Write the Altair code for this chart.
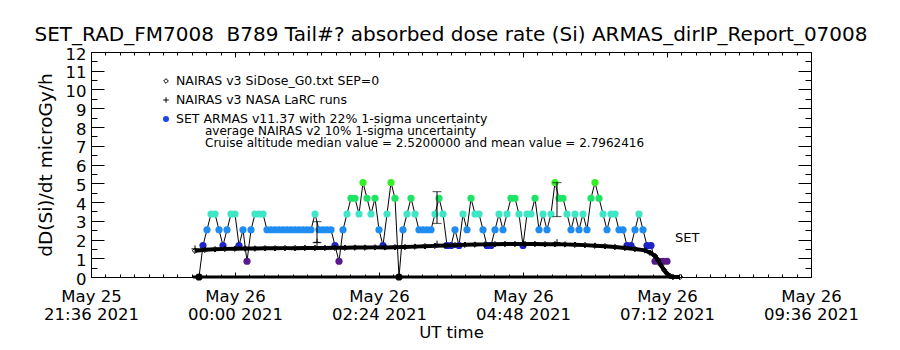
import altair as alt
import pandas as pd

# ---------------- data ----------------
title_text = "SET_RAD_FM7008\u00a0 B789 Tail#? absorbed dose rate (Si) ARMAS_dirIP_Report_07008"
y_title = "dD(Si)/dt microGy/h"
x_title = "UT time"

x_tick_labels_times = ["21:36", "00:00", "02:24", "04:48", "07:12", "09:36"]
y_tick_values = [0, 1, 2, 3, 4, 5, 6, 7, 8, 9, 10, 11, 12]

# SET ARMAS dose rate, one sample every 4 minutes from 23:24 UT
armas_start = "23:24"
armas_step_min = 4
armas_values = [
    0, 1.68, 2.52, 3.36, 3.36, 2.52, 1.68, 2.52, 3.36, 3.36,
    1.68, 2.52, 0.84, 2.52, 3.36, 3.36, 3.36, 2.52, 2.52, 2.52,
    2.52, 2.52, 2.52, 2.52, 2.52, 2.52, 2.52, 2.52, 2.52, 3.36,
    2.52, 2.52, 2.52, 2.52, 1.68, 0.84, 2.52, 3.36, 4.2, 4.2,
    3.36, 5.04, 4.2, 3.36, 4.2, 2.52, 1.68, 3.36, 5.04, 4.2,
    0, 2.52, 3.36, 4.2, 3.36, 2.52, 2.52, 2.52, 2.52, 3.36,
    4.2, 3.36, 1.68, 1.68, 2.52, 1.68, 3.36, 2.52, 4.2, 3.36,
    3.36, 2.52, 1.68, 1.68, 2.52, 3.36, 2.52, 3.36, 4.2, 4.2,
    3.36, 1.68, 3.36, 3.36, 4.2, 2.52, 3.36, 2.52, 3.36, 5.04,
    4.2, 4.2, 3.36, 2.52, 3.36, 2.52, 3.36, 2.52, 4.2, 5.04,
    4.2, 3.36, 2.52, 3.36, 3.36, 2.52, 2.52, 1.68, 1.68, 2.52,
    3.36, 2.52, 1.68, 1.68, 0.84, 0.84, 0.84, 0.84,
]

# NAIRAS v3 SiDose_G0 model curve
g0_times = ["23:20", "23:30", "23:40", "23:50", "00:00", "00:10", "00:20", "00:30",
            "00:40", "00:50", "01:00", "01:10", "01:20", "01:30", "01:40", "01:50",
            "02:00", "02:10", "02:20", "02:30", "02:40", "02:50", "03:00", "03:10",
            "03:20", "03:30", "03:40", "03:50", "04:00", "04:10", "04:20", "04:30",
            "04:40", "04:50", "05:00", "05:10", "05:20", "05:30", "05:40", "05:50",
            "06:00", "06:10", "06:20", "06:30", "06:40", "06:50", "06:55", "07:00",
            "07:03", "07:06", "07:09", "07:12", "07:15", "07:18", "07:25"]
g0_values = [1.40, 1.45, 1.48, 1.50, 1.51, 1.52, 1.52, 1.53,
             1.53, 1.54, 1.54, 1.55, 1.55, 1.55, 1.56, 1.56,
             1.57, 1.57, 1.58, 1.58, 1.59, 1.60, 1.62, 1.64,
             1.66, 1.68, 1.70, 1.72, 1.73, 1.74, 1.75, 1.76,
             1.76, 1.76, 1.76, 1.75, 1.75, 1.74, 1.72, 1.70,
             1.67, 1.64, 1.60, 1.55, 1.49, 1.42, 1.30, 1.12,
             0.90, 0.62, 0.38, 0.18, 0.05, 0.0, 0.0]

# NAIRAS v3 NASA LaRC runs
larc_times = ["23:20", "01:22", "03:22", "05:22"]
larc_values = [1.50, 1.85, 1.75, 1.83]
larc_zero_times = ["23:18", "07:25"]
larc_zero_values = [0.0, 0.0]

# ARMAS 22% 1-sigma uncertainty bars
err_times = ["01:22", "03:22", "05:22"]
err_low = [1.83, 2.86, 3.22]
err_high = [2.95, 4.55, 5.03]

levels = [0, 0.84, 1.68, 2.52, 3.36, 4.2, 5.04]
level_colors = ["#000000", "#561a8a", "#1c24c6", "#1e8cf0", "#3ee6c6", "#1ee466", "#34f024"]

legend_labels = ["NAIRAS v3 SiDose_G0.txt SEP=0",
                 "NAIRAS v3 NASA LaRC runs",
                 "SET ARMAS v11.37 with 22% 1-sigma uncertainty"]
note_lines = ["average NAIRAS v2 10% 1-sigma uncertainty",
              "Cruise altitude median value = 2.5200000 and mean value = 2.7962416"]
set_label = "SET"
set_label_time = "07:20"
set_label_value = 2.08

# ---------------- helpers ----------------
FONT = "DejaVu Sans"


def iso(hhmm):
    day = "25" if int(hhmm[:2]) >= 12 else "26"
    return f"2021-05-{day}T{hhmm}:00Z"


def ms(hhmm):
    return int(pd.Timestamp(iso(hhmm)).value // 10**6)


armas_t0 = pd.Timestamp(iso(armas_start))
armas_df = pd.DataFrame({
    "t": [(armas_t0 + pd.Timedelta(minutes=armas_step_min * i)).strftime("%Y-%m-%dT%H:%M:%SZ")
          for i in range(len(armas_values))],
    "v": armas_values,
})
g0_df = pd.DataFrame({"t": [iso(s) for s in g0_times], "v": g0_values})
larc_df = pd.DataFrame({"t": [iso(s) for s in larc_times], "v": larc_values})
zero_df = pd.DataFrame({"t": [iso(s) for s in larc_zero_times], "v": larc_zero_values})
err_df = pd.DataFrame({"t": [iso(s) for s in err_times], "lo": err_low, "hi": err_high})
set_df = pd.DataFrame({"t": [iso(set_label_time)], "v": [set_label_value], "s": [set_label]})

major_ms = [ms(s) for s in x_tick_labels_times]
step_ms = (major_ms[1] - major_ms[0]) / 10
minor_ms = [major_ms[0] + k * step_ms for k in range(51)]
y_minor = [v + 0.5 for v in y_tick_values[:-1]]

xscale = alt.Scale(type="utc", domain=[major_ms[0], major_ms[-1]])
yscale = alt.Scale(domain=[0, 12], nice=False, zero=False)


def X(axis=None):
    return alt.X("t:T", scale=xscale, axis=axis)


def Y(field="v", axis=None):
    return alt.Y(f"{field}:Q", scale=yscale, axis=axis)


tick_common = dict(domain=False, grid=False, tickColor="black", tickWidth=1)

main_x_axis = alt.Axis(
    values=major_ms, orient="bottom", offset=-5, tickSize=5, **tick_common,
    labelExpr="[utcFormat(datum.value, '%b %d'), utcFormat(datum.value, '%H:%M %Y')]",
    labelFont=FONT, labelFontSize=16.5, labelColor="black", labelPadding=11,
    labelLineHeight=18, labelFlush=False, labelOverlap=False, labelBound=False,
    title=x_title, titleFont=FONT, titleFontSize=16.5, titleFontWeight="normal",
    titleColor="black", titlePadding=2,
)
main_y_axis = alt.Axis(
    values=y_tick_values, orient="left", offset=-13, tickSize=13, **tick_common,
    labelFont=FONT, labelFontSize=16.5, labelColor="black", labelPadding=5, labelOffset=2,
    labelFlush=False, labelOverlap=False, labelBound=False,
    title=y_title, titleFont=FONT, titleFontSize=18.5, titleFontWeight="normal",
    titleColor="black", titlePadding=10,
)


def tick_axis(values, orient, size):
    return alt.Axis(values=values, orient=orient, offset=-size, tickSize=size,
                    labels=False, title=None, **tick_common)


# ---------------- layers ----------------
armas_line = alt.Chart(armas_df).mark_line(color="black", strokeWidth=1).encode(
    x=X(main_x_axis), y=Y("v", main_y_axis))

armas_pts = alt.Chart(armas_df).mark_circle(size=52, opacity=1).encode(
    x=X(), y=Y(),
    color=alt.Color("v:O", scale=alt.Scale(domain=levels, range=level_colors), legend=None))

g0_line = alt.Chart(g0_df).mark_line(color="black", strokeWidth=4).encode(x=X(), y=Y())
g0_pts = alt.Chart(g0_df).mark_point(shape="diamond", filled=False, size=30,
                                     color="black", strokeWidth=1, opacity=1).encode(x=X(), y=Y())

zero_line = alt.Chart(zero_df).mark_line(color="black", strokeWidth=3).encode(x=X(), y=Y())

plus_path = "M-1,0L1,0M0,-1L0,1"
larc_pts = alt.Chart(larc_df).mark_point(shape=plus_path, filled=False, size=50,
                                         color="black", strokeWidth=1, opacity=1).encode(x=X(), y=Y())

err_bars = alt.Chart(err_df).mark_errorbar(ticks={"size": 9}, color="black", thickness=1).encode(
    x=X(), y=Y("lo"), y2="hi:Q")

set_text = alt.Chart(set_df).mark_text(font=FONT, fontSize=13, align="left",
                                       baseline="middle", color="black").encode(
    x=X(), y=Y(), text="s:N")

one = pd.DataFrame({"k": [0]})
legend_layers = []
leg_y = [81, 100, 119]
for i, lab in enumerate(legend_labels):
    legend_layers.append(
        alt.Chart(one).mark_text(font=FONT, fontSize=12.5, align="left", baseline="middle",
                                 color="black").encode(
            x=alt.value(176 - 91), y=alt.value(leg_y[i] - 52), text=alt.value(lab)))
note_y = [130.5, 142.5]
for i, lab in enumerate(note_lines):
    legend_layers.append(
        alt.Chart(one).mark_text(font=FONT, fontSize=12, align="left", baseline="middle",
                                 color="black").encode(
            x=alt.value(205 - 91), y=alt.value(note_y[i] - 52), text=alt.value(lab)))
legend_layers.append(alt.Chart(one).mark_point(shape="diamond", filled=False, size=22, color="black",
                                               strokeWidth=1, opacity=1).encode(
    x=alt.value(166 - 91), y=alt.value(leg_y[0] - 52)))
legend_layers.append(alt.Chart(one).mark_point(shape=plus_path, filled=False, size=30, color="black",
                                               strokeWidth=1, opacity=1).encode(
    x=alt.value(166 - 91), y=alt.value(leg_y[1] - 52)))
legend_layers.append(alt.Chart(one).mark_circle(size=36, color="#1f44e8", opacity=1).encode(
    x=alt.value(166 - 91), y=alt.value(leg_y[2] - 52)))

# tick-only axis layers (inward ticks on all four sides)
ax_minor_bl = alt.Chart(g0_df).mark_point(opacity=0).encode(
    x=X(tick_axis(minor_ms, "bottom", 3)), y=Y("v", tick_axis(y_minor, "left", 6)))
ax_major_tr = alt.Chart(g0_df).mark_point(opacity=0).encode(
    x=X(tick_axis(major_ms, "top", 5)), y=Y("v", tick_axis(y_tick_values, "right", 13)))
ax_minor_tr = alt.Chart(g0_df).mark_point(opacity=0).encode(
    x=X(tick_axis(minor_ms, "top", 3)), y=Y("v", tick_axis(y_minor, "right", 6)))

chart = alt.layer(
    zero_line, armas_line, armas_pts, g0_line, g0_pts, larc_pts, err_bars, set_text,
    *legend_layers, ax_minor_bl, ax_major_tr, ax_minor_tr,
).resolve_axis(x="independent", y="independent").properties(
    width=720, height=225,
    title=alt.TitleParams(text=title_text, font=FONT, fontSize=20, fontWeight="normal",
                          color="black", anchor="middle", offset=1),
    autosize=alt.AutoSizeParams(type="none"),
    padding={"left": 91, "top": 52, "right": 89, "bottom": 73},
    background="white",
).configure_view(stroke="black", strokeWidth=1)

chart.save("out.html", embed_options={"renderer": "svg", "actions": False})
